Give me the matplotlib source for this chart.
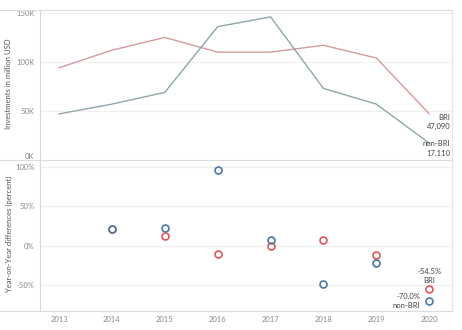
import matplotlib
matplotlib.use("Agg")
import matplotlib.pyplot as plt
from matplotlib.lines import Line2D

years = [2013, 2014, 2015, 2016, 2017, 2018, 2019, 2020]
bri_invest = [94, 112, 125, 110, 110, 117, 104, 47.09]          # thousand million USD
nonbri_invest = [47, 57, 69, 136, 146, 73, 57, 17.11]
yoy_years = [2014, 2015, 2016, 2017, 2018, 2019, 2020]
bri_yoy = [21, 12.5, -11, -0.5, 7.5, -11.5, -54.5]
nonbri_yoy = [21, 22, 96, 7, -49, -22, -70.0]
top_ticks = [0, 50, 100, 150]
top_ticklabels = ["0K", "50K", "100K", "150K"]
bot_ticks = [-50, 0, 50, 100]
bot_ticklabels = ["-50%", "0%", "50%", "100%"]

W, H = 462, 330
fig = plt.figure(figsize=(W / 100, H / 100), dpi=100)
plt.rcParams['font.family'] = ['Lato', 'DejaVu Sans']

def rect(x0, y0, x1, y1):
    return [x0 / W, 1 - y1 / H, (x1 - x0) / W, (y1 - y0) / H]

ax1 = fig.add_axes(rect(40, 9.5, 452, 160))
ax2 = fig.add_axes(rect(40, 160, 452, 310.7))

red_line = "#d69a9c"
blue_line = "#8ea6ab"
red_mk = "#e15759"
blue_mk = "#4e79a7"
tick_col = "#8a8a8a"
grid_col = "#efefef"
txt_col = "#444444"

xlim = (2012.64, 2020.43)
for ax in (ax1, ax2):
    ax.set_xlim(*xlim)
    for s in ax.spines.values():
        s.set_visible(False)
    ax.tick_params(axis='both', length=0, labelsize=5.5, labelcolor=tick_col, pad=4)
    ax.grid(axis='y', color=grid_col, linewidth=0.8)
    ax.set_axisbelow(True)
    ax.spines['left'].set_visible(True)
    ax.spines['left'].set_color("#d8d8d8")
    ax.spines['left'].set_linewidth(0.8)
    ax.spines['right'].set_visible(True)
    ax.spines['right'].set_color("#e6e6e6")
    ax.spines['right'].set_linewidth(0.8)

# Top panel
ax1.plot(years, bri_invest, color=red_line, lw=1.0)
ax1.plot(years, nonbri_invest, color=blue_line, lw=1.0)
ax1.set_ylim(0, 153.5)
ax1.set_yticks(top_ticks)
ax1.set_yticklabels(top_ticklabels)
ax1.set_xticks([])
for lab in ax1.get_yticklabels():
    if lab.get_text() == "0K":
        lab.set_va('bottom')
fig.text(9 / W, 1 - 84 / H, "Investments in million USD", rotation=90, ha='center', va='center',
         fontsize=5.5, color="#555555")
ax1.text(2020.4, bri_invest[-1], "BRI\n{:,}".format(int(round(bri_invest[-1] * 1000))),
         ha='right', va='top', fontsize=5.5, color=txt_col, linespacing=1.4)
ax1.text(2020.4, nonbri_invest[-1] + 3, "non-BRI\n{:,}".format(int(round(nonbri_invest[-1] * 1000))),
         ha='right', va='top', fontsize=5.5, color=txt_col, linespacing=1.4)

# Bottom panel
ax2.plot(yoy_years, bri_yoy, 'o', mfc='none', mec=red_mk, mew=1.2, ms=5)
ax2.plot(yoy_years, nonbri_yoy, 'o', mfc='none', mec=blue_mk, mew=1.2, ms=5)
ax2.set_ylim(-82.5, 108.7)
ax2.set_yticks(bot_ticks)
ax2.set_yticklabels(bot_ticklabels)
ax2.set_xticks(years)
ax2.set_xticklabels([str(y) for y in years])
ax2.tick_params(axis='x', pad=4)
fig.text(9 / W, 1 - 234 / H, "Year-on-Year differences (percent)", rotation=90, ha='center', va='center',
         fontsize=5.5, color="#555555")
ax2.text(2020, bri_yoy[-1] + 6, "{:.1f}%\nBRI".format(bri_yoy[-1]),
         ha='center', va='bottom', fontsize=5.5, color=txt_col, linespacing=1.4)
ax2.text(2019.83, nonbri_yoy[-1], "{:.1f}%\nnon-BRI".format(nonbri_yoy[-1]),
         ha='right', va='center', fontsize=5.5, color=txt_col, linespacing=1.4)

# Panel separator lines across figure
for yy in (9.5, 160, 310.7):
    fig.add_artist(Line2D([0, 452 / W], [1 - yy / H, 1 - yy / H], color="#dcdcdc", lw=0.8,
                          transform=fig.transFigure))

fig.savefig("out.png", dpi=100)
